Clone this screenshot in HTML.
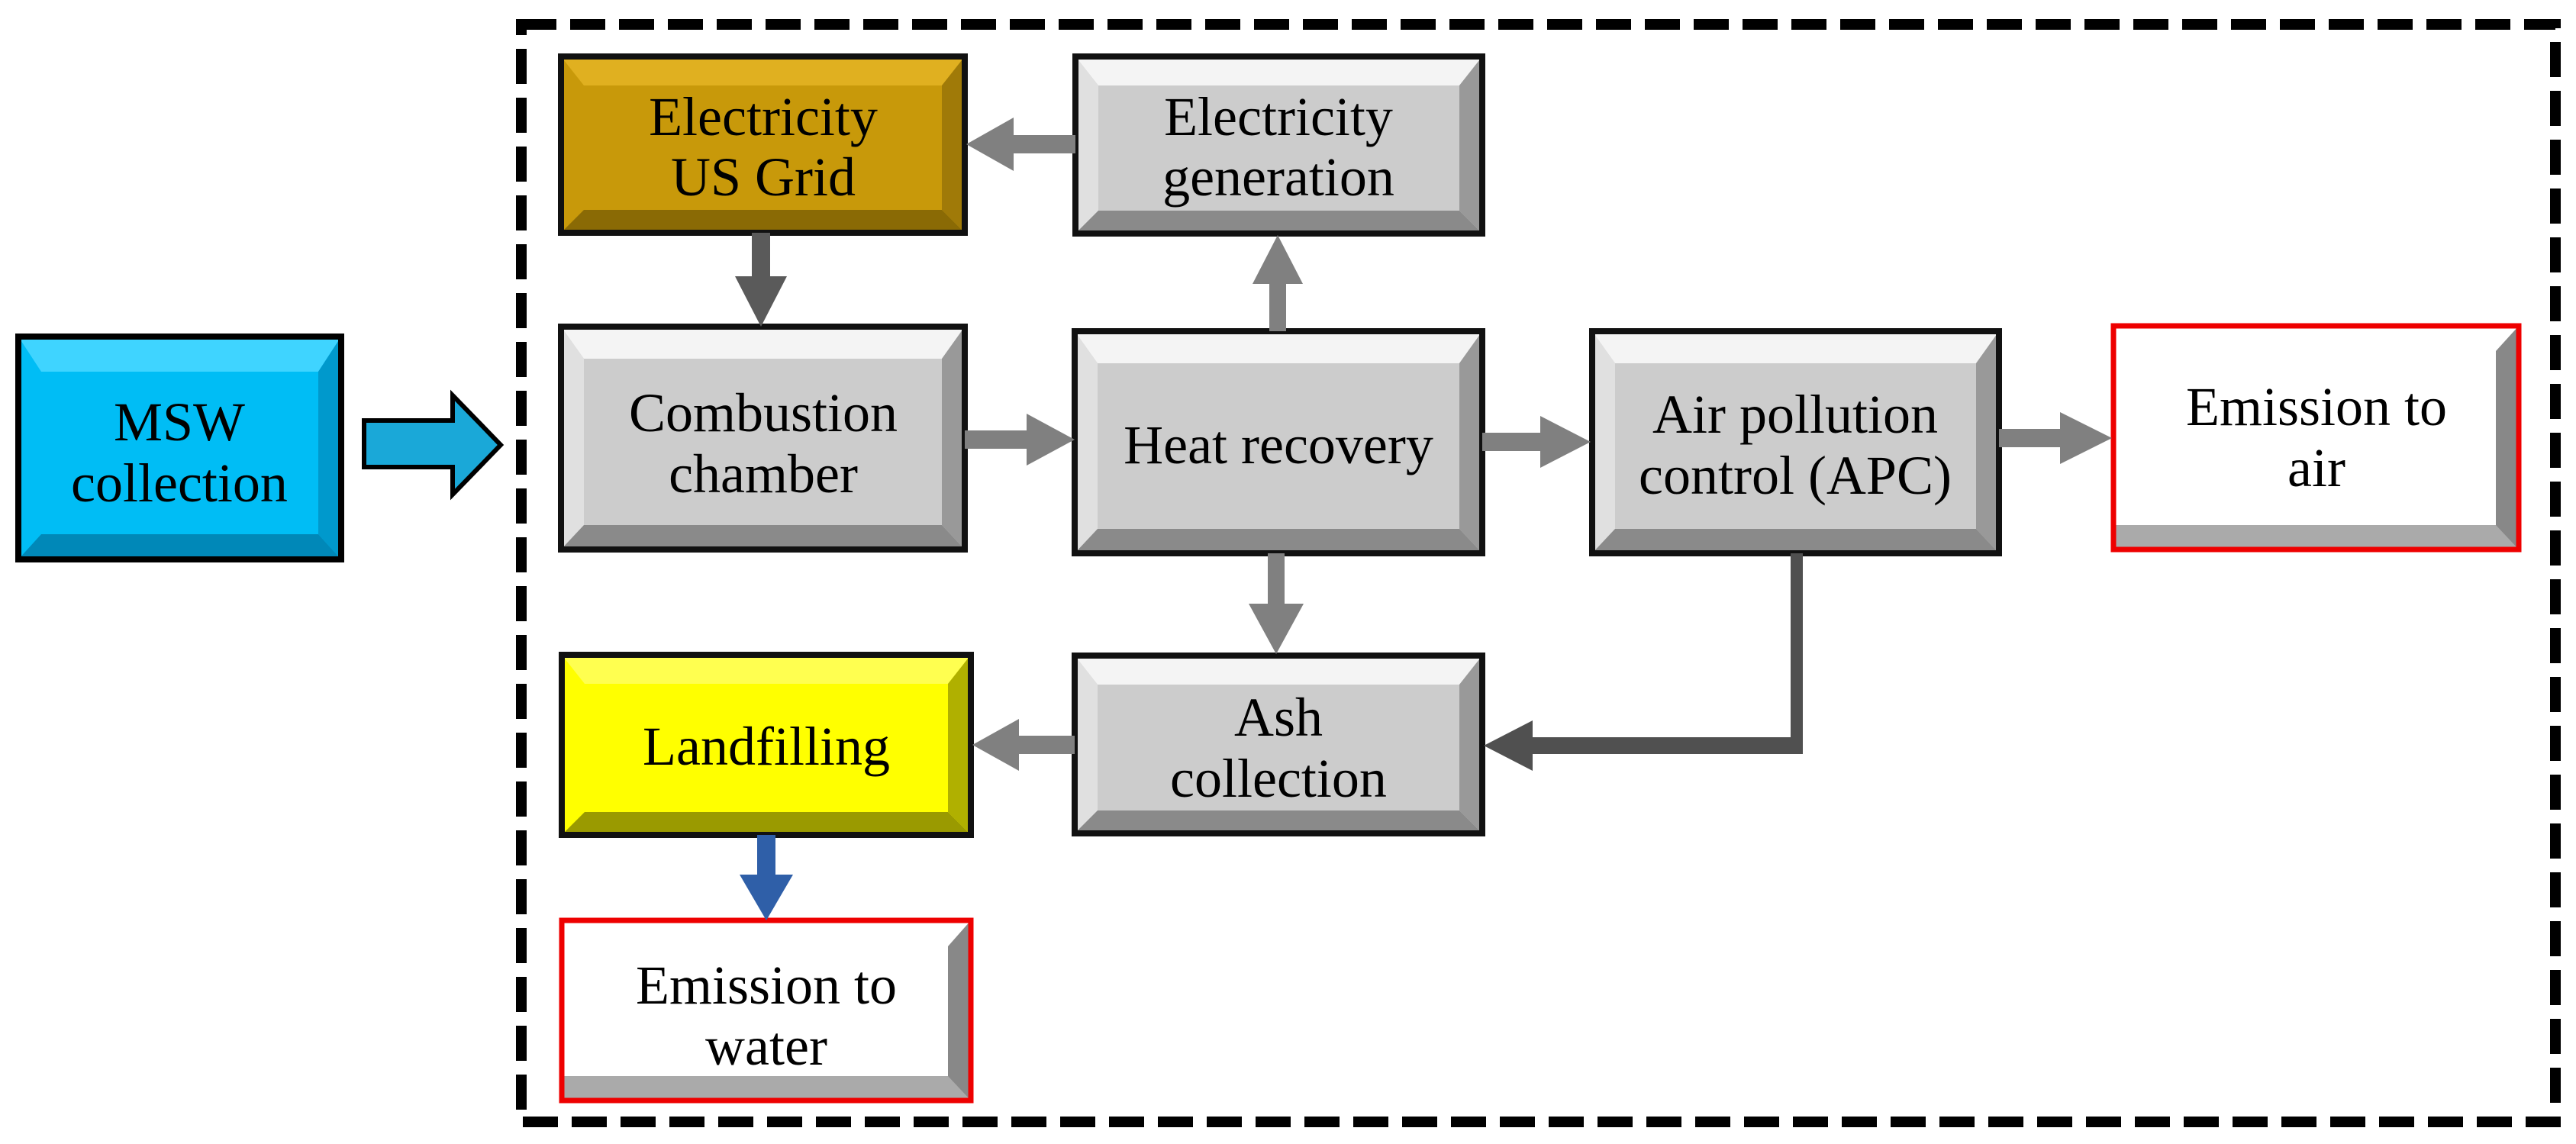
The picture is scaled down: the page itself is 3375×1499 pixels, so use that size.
<!DOCTYPE html>
<html><head><meta charset="utf-8"><style>
html,body{margin:0;padding:0;background:#fff}
svg{display:block}
</style></head><body>
<svg width="3375" height="1499" viewBox="0 0 3375 1499" xmlns="http://www.w3.org/2000/svg" font-family="'Liberation Serif', 'DejaVu Serif', serif" font-size="72" text-anchor="middle">
<rect x="683" y="32" width="2665" height="1438" fill="none" stroke="#000" stroke-width="14" stroke-dasharray="46 18"/>

<!-- MSW -->
<g>
<rect x="24" y="441" width="423" height="292" fill="#00bdf5"/>
<polygon points="24,441 447,441 417,487 54,487" fill="#3fd4ff"/>
<polygon points="24,733 447,733 417,700 54,700" fill="#0088b8"/>
<polygon points="447,441 447,733 417,700 417,487" fill="#0099cc"/>
<rect x="24" y="441" width="423" height="292" fill="none" stroke="#000" stroke-width="8"/>
<text x="235" y="577">MSW</text><text x="235" y="657">collection</text>
</g>
<polygon points="477,551 593,551 593,518 656,583 593,648 593,612 477,612" fill="#1aa8d8" stroke="#000" stroke-width="6"/>

<!-- Electricity US Grid -->
<g>
<rect x="735" y="74" width="529" height="231" fill="#c8990a"/>
<polygon points="735,74 1264,74 1234,112 765,112" fill="#e0b020"/>
<polygon points="735,305 1264,305 1234,275 765,275" fill="#8a6a05"/>
<polygon points="1264,74 1264,305 1234,275 1234,112" fill="#a07a08"/>
<rect x="735" y="74" width="529" height="231" fill="none" stroke="#111" stroke-width="8"/>
<text x="1000" y="177">Electricity</text><text x="1000" y="256">US Grid</text>
</g>
<!-- Electricity generation -->
<g>
<rect x="1409" y="74" width="533" height="232" fill="#cccccc"/>
<polygon points="1409,74 1942,74 1912,112 1439,112" fill="#f4f4f4"/>
<polygon points="1409,74 1439,112 1439,276 1409,306" fill="#e0e0e0"/>
<polygon points="1409,306 1942,306 1912,276 1439,276" fill="#8a8a8a"/>
<polygon points="1942,74 1942,306 1912,276 1912,112" fill="#999"/>
<rect x="1409" y="74" width="533" height="232" fill="none" stroke="#111" stroke-width="8"/>
<text x="1675" y="177">Electricity</text><text x="1675" y="256">generation</text>
</g>
<!-- Combustion -->
<g>
<rect x="735" y="428" width="529" height="292" fill="#cccccc"/>
<polygon points="735,428 1264,428 1234,470 765,470" fill="#f4f4f4"/>
<polygon points="735,428 765,470 765,688 735,720" fill="#e0e0e0"/>
<polygon points="735,720 1264,720 1234,688 765,688" fill="#8a8a8a"/>
<polygon points="1264,428 1264,720 1234,688 1234,470" fill="#999"/>
<rect x="735" y="428" width="529" height="292" fill="none" stroke="#111" stroke-width="8"/>
<text x="1000" y="565">Combustion</text><text x="1000" y="645">chamber</text>
</g>
<!-- Heat recovery -->
<g>
<rect x="1408" y="434" width="534" height="291" fill="#cccccc"/>
<polygon points="1408,434 1942,434 1912,476 1438,476" fill="#f4f4f4"/>
<polygon points="1408,434 1438,476 1438,693 1408,725" fill="#e0e0e0"/>
<polygon points="1408,725 1942,725 1912,693 1438,693" fill="#8a8a8a"/>
<polygon points="1942,434 1942,725 1912,693 1912,476" fill="#999"/>
<rect x="1408" y="434" width="534" height="291" fill="none" stroke="#111" stroke-width="8"/>
<text x="1675" y="607">Heat recovery</text>
</g>
<!-- APC -->
<g>
<rect x="2086" y="434" width="533" height="291" fill="#cccccc"/>
<polygon points="2086,434 2619,434 2589,476 2116,476" fill="#f4f4f4"/>
<polygon points="2086,434 2116,476 2116,693 2086,725" fill="#e0e0e0"/>
<polygon points="2086,725 2619,725 2589,693 2116,693" fill="#8a8a8a"/>
<polygon points="2619,434 2619,725 2589,693 2589,476" fill="#999"/>
<rect x="2086" y="434" width="533" height="291" fill="none" stroke="#111" stroke-width="8"/>
<text x="2352" y="567">Air pollution</text><text x="2352" y="647">control (APC)</text>
</g>
<!-- Emission to air -->
<g>
<rect x="2769" y="427" width="531" height="293" fill="#ffffff"/>
<polygon points="2769,688 3300,688 3300,720 2769,720" fill="#aaa"/>
<polygon points="3300,427 3300,720 3270,688 3270,460" fill="#888"/>
<rect x="2769" y="427" width="531" height="293" fill="none" stroke="#e00" stroke-width="7"/>
<text x="3035" y="557">Emission to</text><text x="3035" y="637">air</text>
</g>
<!-- Ash -->
<g>
<rect x="1408" y="859" width="534" height="233" fill="#cccccc"/>
<polygon points="1408,859 1942,859 1912,897 1438,897" fill="#f4f4f4"/>
<polygon points="1408,859 1438,897 1438,1062 1408,1092" fill="#e0e0e0"/>
<polygon points="1408,1092 1942,1092 1912,1062 1438,1062" fill="#8a8a8a"/>
<polygon points="1942,859 1942,1092 1912,1062 1912,897" fill="#999"/>
<rect x="1408" y="859" width="534" height="233" fill="none" stroke="#111" stroke-width="8"/>
<text x="1675" y="964">Ash</text><text x="1675" y="1044">collection</text>
</g>
<!-- Landfilling -->
<g>
<rect x="736" y="858" width="536" height="236" fill="#ffff00"/>
<polygon points="736,858 1272,858 1242,896 766,896" fill="#ffff50"/>
<polygon points="736,1094 1272,1094 1242,1064 766,1064" fill="#9a9a00"/>
<polygon points="1272,858 1272,1094 1242,1064 1242,896" fill="#b0b000"/>
<rect x="736" y="858" width="536" height="236" fill="none" stroke="#111" stroke-width="8"/>
<text x="1004" y="1002">Landfilling</text>
</g>
<!-- Emission to water -->
<g>
<rect x="736" y="1206" width="536" height="236" fill="#ffffff"/>
<polygon points="736,1410 1272,1410 1272,1442 736,1442" fill="#aaa"/>
<polygon points="1272,1206 1272,1442 1242,1410 1242,1240" fill="#888"/>
<rect x="736" y="1206" width="536" height="236" fill="none" stroke="#e00" stroke-width="7"/>
<text x="1004" y="1315">Emission to</text><text x="1004" y="1395">water</text>
</g>

<g fill="#808080">
<polygon points="1409,177 1328,177 1328,154 1266,189 1328,224 1328,201 1409,201"/>
<polygon points="985,305 1009,305 1009,362 1031,362 997,428 963,362 985,362" fill="#5a5a5a"/>
<polygon points="1264,564 1345,564 1345,542 1408,576 1345,610 1345,588 1264,588"/>
<polygon points="1663,434 1663,372 1641,372 1674,308 1707,372 1685,372 1685,434"/>
<polygon points="1942,567 2018,567 2018,545 2084,579 2018,613 2018,591 1942,591"/>
<polygon points="2619,562 2699,562 2699,540 2767,574 2699,608 2699,586 2619,586"/>
<polygon points="1661,725 1683,725 1683,791 1708,791 1672,857 1636,791 1661,791"/>
<polygon points="1408,964 1335,964 1335,942 1274,976 1335,1010 1335,988 1408,988"/>
<polygon points="2346,725 2362,725 2362,988 2008,988 2008,1010 1944,977 2008,944 2008,966 2346,966" fill="#505050"/>
</g>
<polygon points="992,1094 1016,1094 1016,1146 1039,1146 1004,1206 969,1146 992,1146" fill="#2f5fa8"/>
</svg>
</body></html>
